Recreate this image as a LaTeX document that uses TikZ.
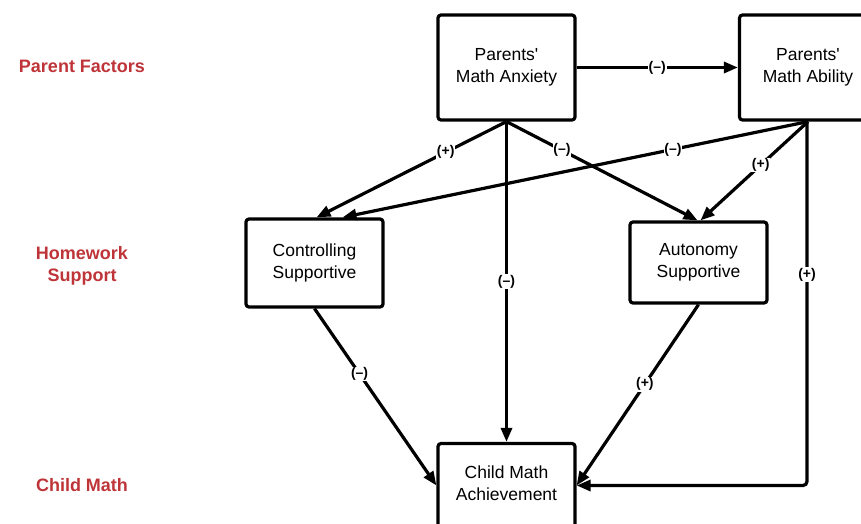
\documentclass[tikz,border=0pt]{standalone}
\usepackage{fontspec}
\setmainfont{Liberation Sans}
\usetikzlibrary{arrows.meta,calc}
\definecolor{grpred}{RGB}{190,52,56}
\begin{document}
\begin{tikzpicture}[x=1pt,y=-1pt,
  box/.style={draw=black,line width=3.2pt,rounded corners=3pt,minimum width=137pt,align=center,
    font=\fontsize{17.5}{22}\selectfont,inner sep=0pt},
  grp/.style={text=grpred,font=\fontsize{18}{22}\selectfont\bfseries,align=center},
  conn/.style={line width=3.2pt,-{Triangle[length=14pt,width=11pt]}},
  lab/.style={fill=white,inner sep=0.8pt,font=\fontsize{14}{16}\selectfont\bfseries}]
\useasboundingbox (0,0) rectangle (861,524);
\clip (0,0) rectangle (861,524);
\node[box,minimum height=105pt] (anx) at (506.5,67.5) {Parents\textquotesingle\\Math Anxiety};
\node[box,minimum height=105pt] (abil) at (808,67.5) {Parents\textquotesingle\\Math Ability};
\node[box,minimum height=88pt] (ctrl) at (314.5,263) {Controlling\\Supportive};
\node[box,minimum height=81pt] (auto) at (698.5,262.5) {Autonomy\\Supportive};
\node[box,minimum height=84pt,text depth=5pt] (child) at (506.5,485.5) {Child Math\\Achievement};
\node[grp] (g1) at (82,66) {Parent Factors};
\node[grp] (g2) at (82,266) {Homework\\Support};
\node[grp] (g3) at (82,485) {Child Math};
\draw[conn] (anx.east) -- node[lab,pos=0.5] {(–)} (abil.west);
\draw[conn] (anx.south) -- node[lab,pos=0.32] {(+)} ($(ctrl.north)+(2,0)$);
\draw[conn] (anx.south) -- node[lab,pos=0.5] {(–)} (child.north);
\draw[conn] (anx.south) -- node[lab,pos=0.29] {(–)} ($(auto.north)+(-1,0)$);
\draw[conn] (abil.south) -- node[lab,pos=0.29] {(–)} ($(ctrl.north)+(28,0)$);
\draw[conn] (abil.south) -- node[lab,pos=0.44] {(+)} ($(auto.north)+(2,0)$);
\draw[conn,rounded corners=4pt] ($(abil.south)+(-1,0)$) -- node[lab,pos=0.42] {(+)} ($(abil.south |- child.east)+(-1,0)$) -- (child.east);
\draw[conn] (ctrl.south) -- node[lab,pos=0.37] {(–)} (child.west);
\draw[conn] (auto.south) -- node[lab,pos=0.44] {(+)} (child.east);
\end{tikzpicture}
\end{document}
